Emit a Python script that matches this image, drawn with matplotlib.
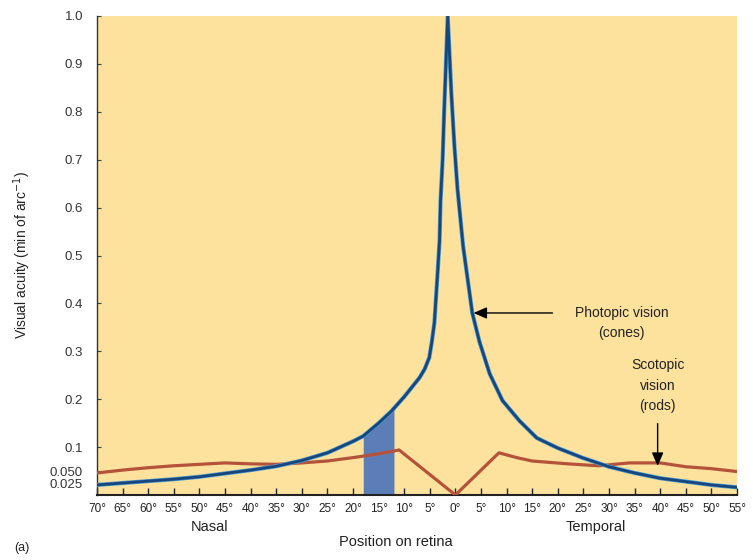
import matplotlib
matplotlib.use("Agg")
import matplotlib.pyplot as plt
import numpy as np

plt.rcParams['font.family'] = ['Liberation Sans', 'DejaVu Sans']

# Photopic vision (cones)
photo_deg = [-70, -65, -60, -55, -50, -45, -40, -35, -30, -25, -20, -18, -15, -12.5,
             -10, -8.5, -7, -6, -5.1, -4.6, -4.1, -3.5, -3.1, -2.9, -2.5, -2.2, -1.5,
             -0.8, -0.2, 0.4, 1.5, 2.4, 3.3, 4.7, 6.7, 9.2, 12.5, 15.9, 20, 25, 30, 35,
             40, 45, 50, 55]
photo_val = [0.021, 0.025, 0.029, 0.033, 0.038, 0.045, 0.052, 0.060, 0.072, 0.088, 0.112,
             0.123, 0.150, 0.175, 0.205, 0.225, 0.245, 0.263, 0.287, 0.32, 0.36, 0.46,
             0.53, 0.615, 0.70, 0.80, 1.00, 0.84, 0.73, 0.64, 0.52, 0.45, 0.38, 0.32,
             0.253, 0.197, 0.155, 0.119, 0.098, 0.077, 0.059, 0.046, 0.035, 0.028,
             0.021, 0.016]

# Scotopic vision (rods)
scot_deg = [-70, -65, -60, -55, -50, -45, -40, -35, -30, -25, -20, -15, -11, 0,
            8.5, 12, 15, 22, 28, 34, 40, 45, 50, 55]
scot_val = [0.046, 0.052, 0.057, 0.061, 0.064, 0.067, 0.065, 0.064, 0.067, 0.071, 0.078,
            0.086, 0.094, 0.0, 0.088, 0.078, 0.071, 0.065, 0.061, 0.067, 0.067, 0.059,
            0.055, 0.049]

# Blind spot range
blind_start, blind_end = -18, -12

xtick_vals = list(range(-70, 60, 5))
xtick_labels = [f"{abs(v)}°" for v in xtick_vals]
ytick_vals = [0.025, 0.050, 0.1, 0.2, 0.3, 0.4, 0.5, 0.6, 0.7, 0.8, 0.9, 1.0]
ytick_labels = ["0.025", "0.050", "0.1", "0.2", "0.3", "0.4", "0.5", "0.6", "0.7", "0.8", "0.9", "1.0"]

fig = plt.figure(figsize=(7.53, 5.6), dpi=100)
ax = fig.add_axes([97/753, 1-495/560, (737-97)/753, (495-16)/560])
ax.set_facecolor('#FCE29C')

ax.set_xlim(-70, 55)
ax.set_ylim(0, 1.0)

# blind spot band under the photopic curve
xs = np.linspace(blind_start, blind_end, 50)
ys = np.interp(xs, photo_deg, photo_val)
ax.fill_between(xs, 0, ys, color='#5B7DB8', lw=0, zorder=2)

ax.plot(scot_deg, scot_val, color='#B4533A', lw=2.3, zorder=3)
ax.plot(photo_deg, photo_val, color='#4F9BD0', lw=3.0, zorder=4)
ax.plot(photo_deg, photo_val, color='#17467D', lw=2.0, zorder=4.1)

ax.set_xticks(xtick_vals)
ax.set_xticklabels(xtick_labels, fontsize=8.5, color='#222222')
ax.set_yticks(ytick_vals)
ax.set_yticklabels(ytick_labels, fontsize=9.5, color='#333333')
ax.tick_params(axis='x', direction='in', length=5, width=1.0, color='#222222', pad=6)
ax.tick_params(axis='y', direction='in', length=3, width=0.8, color='#444444', pad=10)
for lbl in ax.get_yticklabels()[:2]:
    lbl.set_x(lbl.get_position()[0])
    lbl.set_horizontalalignment('right')

for s in ['top', 'right']:
    ax.spines[s].set_visible(False)
ax.spines['bottom'].set_color('#222222')
ax.spines['bottom'].set_linewidth(1.5)
ax.spines['left'].set_color('#333333')
ax.spines['left'].set_linewidth(1.0)

# annotations
ax.annotate('', xy=(3.0, 0.38), xytext=(19.5, 0.38),
            arrowprops=dict(arrowstyle='-|>,head_length=0.8,head_width=0.35', color='black', lw=1.0),
            zorder=6)
ax.text(32.5, 0.38, 'Photopic vision', ha='center', va='center', fontsize=10, color='#222222')
ax.text(32.5, 0.338, '(cones)', ha='center', va='center', fontsize=10, color='#222222')
ax.annotate('', xy=(39.5, 0.055), xytext=(39.5, 0.155),
            arrowprops=dict(arrowstyle='-|>,head_length=0.8,head_width=0.35', color='black', lw=1.0),
            zorder=6)
ax.text(39.5, 0.285, 'Scotopic\nvision\n(rods)', ha='center', va='top', fontsize=10,
        linespacing=1.55, color='#222222')

fig.text(210/753, 1-527/560, 'Nasal', ha='center', va='center', fontsize=10.5, color='#222222')
fig.text(596/753, 1-527/560, 'Temporal', ha='center', va='center', fontsize=10.5, color='#222222')
fig.text(396/753, 1-542/560, 'Position on retina', ha='center', va='center', fontsize=10.5, color='#222222')
fig.text(22/753, 1-548/560, '(a)', ha='center', va='center', fontsize=9, color='#222222')
fig.text(22/753, 1-255/560, 'Visual acuity (min of arc$^{-1}$)', rotation=90,
         ha='center', va='center', fontsize=10, color='#222222')

fig.savefig('out.png', dpi=100, facecolor='white')
